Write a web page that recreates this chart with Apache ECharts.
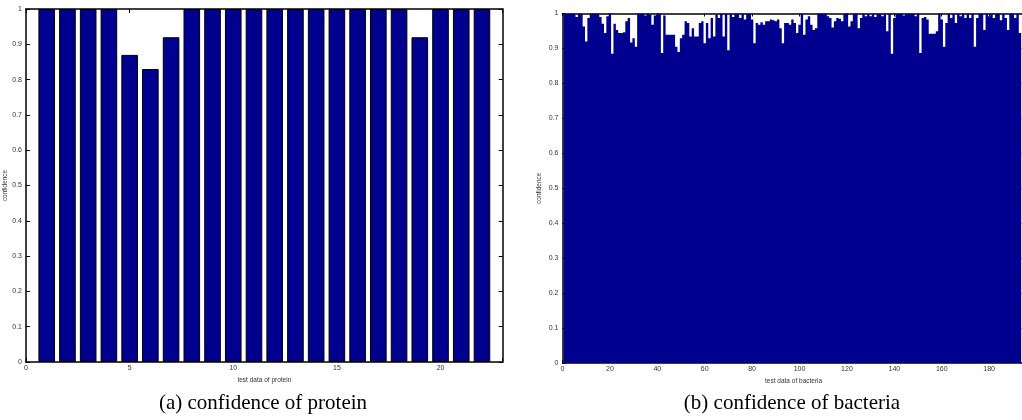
<!DOCTYPE html>
<html><head><meta charset="utf-8">
<script src="https://cdn.jsdelivr.net/npm/echarts@6/dist/echarts.min.js"></script>
<style>html,body{margin:0;padding:0;background:#fff}#c{width:1022px;height:420px}</style>
</head><body><div id="c"></div>
<script>
// ---------- data ----------
const proteinIndex = [1,2,3,4,5,6,7,8,9,10,11,12,13,14,15,16,17,18,19,20,21,22];
const proteinConf  = [1,1,1,1,0.87,0.83,0.92,1,1,1,1,1,1,1,1,1,1,1,0.92,1,1,1];

const bacteriaConf = [
  1,1,1,1,1,0.99,1,1,0.963,0.92,
  0.987,1,1,1,1,0.99,0.971,0.944,0.992,1,
  0.885,0.971,0.953,0.944,0.944,0.946,0.978,0.987,0.917,0.929,
  0.905,1,1,1,0.994,1,0.997,0.968,0.994,1,
  1,0.887,0.994,0.939,0.939,0.939,0.939,0.905,0.89,0.929,
  0.939,0.978,0.973,0.934,0.958,0.934,0.934,0.973,0.978,0.915,
  0.973,0.929,0.987,0.934,0.997,0.987,1,0.934,1,0.895,
  1,0.99,1,1,0.987,1,0.983,1,1,0.983,
  0.915,0.973,0.968,0.975,0.968,0.978,0.978,0.983,0.981,0.978,
  0.983,0.958,0.915,0.973,0.973,0.968,0.983,0.973,0.944,0.968,
  1,0.939,0.983,0.992,0.968,0.953,0.958,1,1,1,
  1,0.992,0.987,0.96,0.978,0.987,0.985,0.978,1,1,
  0.963,0.978,1,1,0.958,0.987,1,0.992,1,0.992,
  1,0.99,1,1,0.992,1,0.949,1,0.885,0.987,
  1,1,1,0.994,1,1,1,1,0.992,1,
  0.887,0.987,0.99,0.983,0.942,0.942,0.942,0.949,1,0.983,
  0.905,0.973,1,0.987,1,0.973,1,0.992,1,0.987,
  1,0.987,1,0.905,0.987,1,1,0.953,1,0.992,
  1,0.987,1,1,0.981,1,0.987,0.953,1,1,
  0.987,1,0.944
];
const bacteriaIndex = bacteriaConf.map((v, i) => i + 1);

const proteinXTicks  = [0,5,10,15,20];
const bacteriaXTicks = [0,20,40,60,80,100,120,140,160,180];
const yTickLabels = ['0','0.1','0.2','0.3','0.4','0.5','0.6','0.7','0.8','0.9','1'];

const proteinXMax = 23;
const bacteriaXMax = 195;

const captionA = '(a) confidence of protein';
const captionB = '(b) confidence of bacteria';

// ---------- styles ----------
const BAR = '#00008F';
const labelStyle = { fontSize: 7, color: '#333', fontFamily: 'Liberation Sans' };
const nameStyle = { fontSize: 6.5, color: '#333', fontFamily: 'Liberation Sans' };
const lineStyle = { color: '#000', width: 1.5 };

const G0 = { left: 26, top: 9, width: 476.7, height: 353, outerBoundsMode: 'none', containLabel: false };
const G1 = { left: 562.5, top: 13.5, width: 462.2, height: 349.5, outerBoundsMode: 'none', containLabel: false };

function xAx(grid, max, ticks, pos, name, tickLen) {
  return {
    type: 'value', gridIndex: grid, position: pos, min: 0, max: max,
    interval: ticks[1] - ticks[0],
    axisLine: { show: true, onZero: false, lineStyle: lineStyle },
    axisTick: { show: true, inside: true, length: tickLen, lineStyle: { color: '#000', width: 1 } },
    axisLabel: pos === 'bottom' ? { show: true, margin: 3, ...labelStyle,
      formatter: v => ticks.includes(v) ? String(v) : '' } : { show: false },
    splitLine: { show: false },
    name: name || '', nameLocation: 'middle', nameGap: 10, nameTextStyle: nameStyle
  };
}
function yAx(grid, pos, name, gap, tickLen) {
  return {
    type: 'value', gridIndex: grid, position: pos, min: 0, max: 1, interval: 0.1,
    axisLine: { show: true, onZero: false, lineStyle: lineStyle },
    axisTick: { show: true, inside: true, length: tickLen, lineStyle: { color: '#000', width: 1 } },
    axisLabel: pos === 'left' ? { show: true, margin: 4, ...labelStyle,
      formatter: v => yTickLabels[Math.round(v * 10)] } : { show: false },
    splitLine: { show: false },
    name: name || '', nameLocation: 'middle', nameGap: gap, nameTextStyle: nameStyle
  };
}

const chart = echarts.init(document.getElementById('c'), null, { renderer: 'canvas' });
chart.setOption({
  animation: false,
  backgroundColor: '#fff',
  grid: [G0, G1],
  xAxis: [
    xAx(0, proteinXMax, proteinXTicks, 'bottom', 'test data of protein', 4),
    xAx(0, proteinXMax, proteinXTicks, 'top', '', 4),
    xAx(1, bacteriaXMax, bacteriaXTicks, 'bottom', 'test data of bacteria', 3),
    xAx(1, bacteriaXMax, bacteriaXTicks, 'top', '', 3)
  ],
  yAxis: [
    yAx(0, 'left', 'confidence', 13, 4),
    yAx(0, 'right', '', 0, 4),
    yAx(1, 'left', 'confidence', 20, 3),
    yAx(1, 'right', '', 0, 3)
  ],
  series: [
    {
      type: 'bar', xAxisIndex: 0, yAxisIndex: 0,
      data: proteinIndex.map((x, i) => [x, proteinConf[i]]),
      barWidth: 16.6,
      itemStyle: { color: BAR, borderColor: '#000', borderWidth: 1 }
    },
    {
      type: 'bar', xAxisIndex: 2, yAxisIndex: 2,
      data: bacteriaIndex.map((x, i) => [x, bacteriaConf[i]]),
      barWidth: 2.4,
      large: true, largeThreshold: 50,
      itemStyle: { color: BAR }
    }
  ],
  graphic: [
    { type: 'text', x: 263, y: 403, style: { text: captionA, font: '21px "Liberation Serif"', fill: '#000',
      textAlign: 'center', textVerticalAlign: 'middle', align: 'center', verticalAlign: 'middle' } },
    { type: 'text', x: 792, y: 403, style: { text: captionB, font: '21px "Liberation Serif"', fill: '#000',
      textAlign: 'center', textVerticalAlign: 'middle', align: 'center', verticalAlign: 'middle' } }
  ]
});
</script></body></html>
